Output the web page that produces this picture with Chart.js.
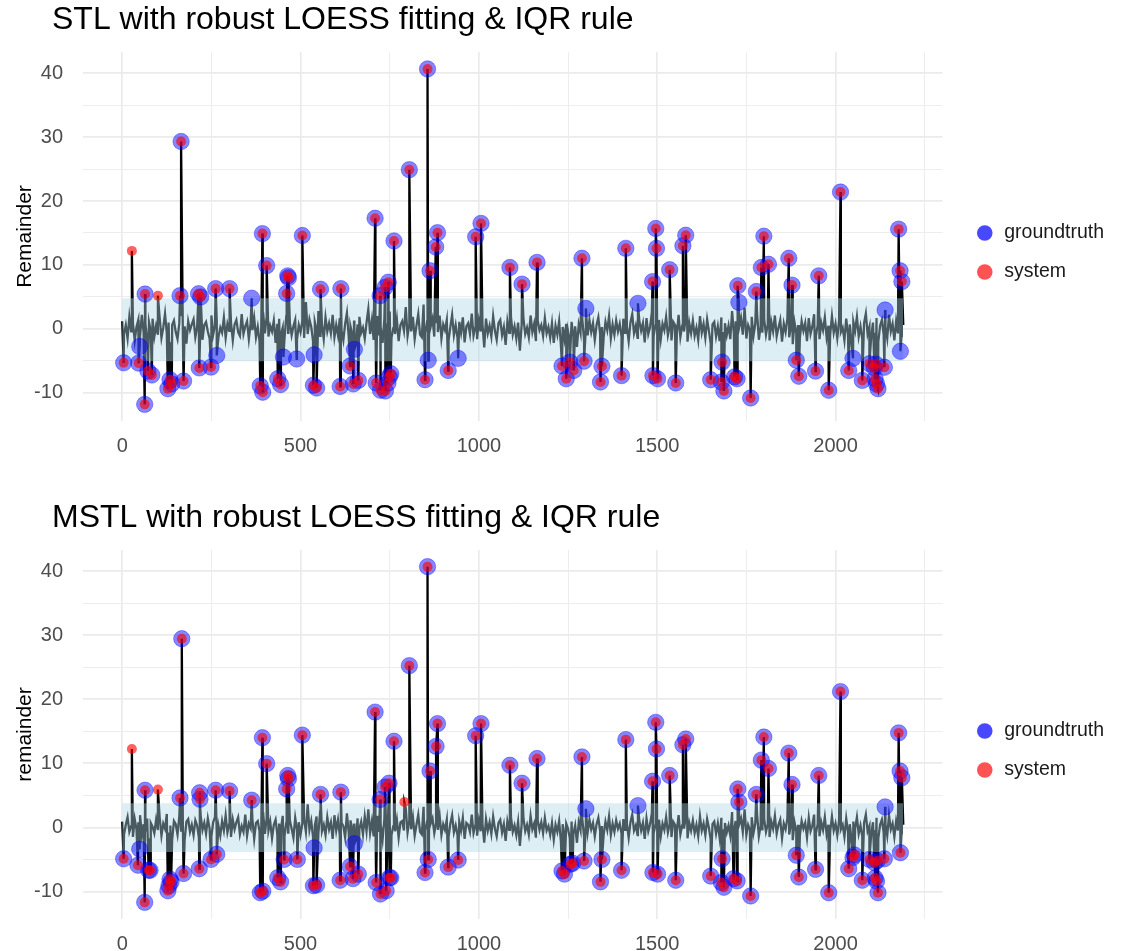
<!DOCTYPE html>
<html>
<head>
<meta charset="utf-8">
<script src="https://cdn.jsdelivr.net/npm/chart.js@4.4.1/dist/chart.umd.min.js"></script>
<style>
  body { margin: 0; background: #fff; overflow: hidden; }
  .panel { position: absolute; left: 0; width: 1139px; height: 453px; }
</style>
</head>
<body>
<div class="panel" style="top:0"><canvas id="stl"></canvas></div>
<div class="panel" style="top:498px"><canvas id="mstl"></canvas></div>
<script>
// titles
const stlTitle = 'STL with robust LOESS fitting & IQR rule';
const mstlTitle = 'MSTL with robust LOESS fitting & IQR rule';
const stlYTitle = 'Remainder';
const mstlYTitle = 'remainder';
const seriesNames = ['groundtruth', 'system'];

// axis ticks
const xMajor = [0, 500, 1000, 1500, 2000];
const xMinor = [250, 750, 1250, 1750, 2250];
const yMajor = [-10, 0, 10, 20, 30, 40];
const yMinor = [-5, 5, 15, 25, 35];
const xRange = [-110, 2300];
const stlYRange = [-14.4, 43.3];
const mstlYRange = [-14.3, 43.3];

// IQR band [lower, upper] and its x extent
const stlBand = [-5.05, 4.8];
const mstlBand = [-3.85, 3.75];
const bandX = [0, 2190];

// remainder samples, one every noiseStep time units (outliers are added on top)
const noiseStep = 5;
const stlNoise = [
  1.2,-0.8,0.6,-1.5,1.9,-0.4,0.9,-1.8,0.3,1.4,-1.1,2.2,-0.6,0.8,-1.9,1.1,-0.3,1.6,-1.2,0.5,
  -0.9,1.7,-1.4,0.2,2.4,-0.7,1.0,-2.1,0.6,1.3,-0.5,-1.6,0.9,2.0,-1.0,0.4,-2.3,1.2,-0.2,0.7,
  1.5,-1.3,0.3,-0.8,1.9,-1.7,0.6,1.1,-0.4,-1.5,2.1,-0.9,0.5,1.3,-1.2,0.2,-0.6,1.8,-1.4,0.8,
  -0.3,1.0,-1.8,0.7,1.4,-0.5,-1.1,2.3,-0.8,0.4,1.2,-1.6,0.9,-0.2,1.7,-1.3,0.3,-2.0,1.1,2.6,
  -0.7,1.9,-1.2,0.5,-0.4,1.3,-2.2,0.8,1.6,-0.9,0.2,-1.5,2.0,-0.6,1.0,-1.0,0.4,1.4,-1.7,0.6,
  -0.5,1.2,-1.4,4.2,-0.8,1.5,0.3,-1.9,1.1,-0.2,2.8,-1.1,0.7,-1.6,1.8,-0.4,0.9,-0.7,2.2,-1.3,
  0.6,-1.0,1.7,-0.3,-1.8,0.8,2.5,-1.2,0.4,-0.9,1.3,-2.4,0.7,1.9,-0.6,0.2,-1.5,1.0,3.1,-0.8,
  1.4,-1.7,0.5,2.0,-1.0,0.3,-2.2,1.6,-0.5,0.9,2.7,-1.4,0.1,-0.8,1.5,-1.9,0.6,1.2,-0.3,3.4,
  -1.1,0.8,-0.4,1.9,-1.6,0.5,2.3,-0.9,-1.3,3.8,-0.7,1.2,-2.0,0.4,1.6,-1.2,0.9,-0.5,2.1,-1.5,
  0.7,-0.2,1.4,-1.8,0.3,2.2,-1.0,0.6,-1.4,1.1,-0.6,1.8,-2.1,0.4,0.9,-0.8,2.4,-1.1,0.2,-1.6,
  1.3,-0.4,0.8,-2.9,1.6,-0.7,0.5,-1.2,2.0,-0.3,-1.7,0.9,1.4,-1.0,0.3,-2.5,1.2,-0.6,1.9,-0.9,
  0.4,-1.5,1.0,-3.4,0.7,1.6,-0.8,0.2,-1.3,2.1,-0.5,0.8,-1.9,1.3,-0.2,0.6,-1.1,1.7,-0.7,0.3,
  -1.4,0.9,-2.2,0.5,-0.9,1.2,-2.6,0.3,-1.6,0.8,-0.4,-2.0,1.1,-1.2,0.4,-2.8,0.7,-0.6,1.5,-1.8,
  0.2,-1.0,1.4,-0.5,0.9,-1.7,0.6,1.8,-0.8,0.3,-1.3,1.1,-0.2,2.0,-1.5,0.7,-0.9,1.3,-0.4,0.8,
  -1.2,1.6,-0.6,0.4,-1.9,1.0,2.3,-0.7,0.5,-1.4,1.2,-0.3,0.9,-2.1,1.7,-0.8,0.3,2.6,-1.1,0.6,
  -0.5,1.4,-1.6,0.8,-0.2,1.9,-1.0,0.4,-1.8,1.1,0.6,-0.9,2.2,-1.3,0.5,-0.4,1.6,-2.0,0.9,-0.7,
  1.3,-1.1,0.2,-1.7,2.0,-0.6,0.8,-1.4,1.5,-0.3,-2.3,0.7,1.1,-1.2,0.4,-1.9,1.8,-0.5,0.9,-1.0,
  0.5,-1.6,2.8,-0.8,1.2,-1.3,0.3,1.7,-0.9,3.3,-1.5,0.6,-0.2,1.9,-1.1,0.8,2.5,-1.7,0.4,-0.6,
  1.5,-0.9,0.7,-1.8,1.1,-0.4,2.1,-1.2,0.2,1.4,-2.0,0.8,-0.5,1.6,-1.3,0.3,-2.4,1.0,-0.7,0.6,
  -1.5,1.2,-0.3,0.9,-1.9,1.7,-0.8,0.4,2.3,-1.1,0.6,-1.6,1.0,-0.2,1.8,-1.3,0.5,-0.9,2.0,-0.6,
  0.8,-1.4,1.3,-0.5,0.2,-1.8,1.6,-0.9,0.7,-2.2,1.1,-0.3,1.9,-1.2,0.4,-1.6,0.9,2.4,-0.8,0.3,
  -1.3,1.0,-0.6,1.7,-2.0,0.5,1.4,-0.9,0.3,-1.5,2.2,-0.4,0.8,-1.8,1.2,-0.7,1.5,-1.1,0.6
];
const mstlNoise = [
  0.9,-1.1,0.4,1.6,-0.7,0.2,-1.5,1.3,-0.3,0.8,1.9,-1.2,0.5,-0.6,1.4,-1.7,0.7,0.1,-0.9,1.2,
  -0.4,1.5,-1.3,0.6,-0.2,2.1,-0.8,0.3,-1.9,1.0,0.5,-1.1,1.7,-0.5,0.2,-2.0,0.9,1.3,-0.7,0.4,
  -1.2,1.1,0.3,-1.6,1.8,-0.4,0.7,-1.0,1.4,-0.2,-1.4,0.8,1.6,-0.9,0.2,-1.3,1.0,-0.5,1.9,-0.8,
  0.5,-1.5,1.2,-0.3,0.8,1.6,-1.1,0.2,-0.7,2.0,-1.3,0.6,-0.1,1.3,-1.8,0.7,1.0,-0.6,0.3,2.4,
  -1.0,1.4,-0.5,0.9,-1.7,0.4,1.2,-1.2,0.6,-0.3,1.8,-1.4,0.7,-0.8,1.1,-0.2,-1.6,1.5,-0.4,0.8,
  -1.1,0.6,1.3,-0.7,3.6,-0.4,1.0,-1.5,0.3,1.7,-0.9,2.5,-0.6,0.4,-1.2,1.6,-0.3,0.8,-1.8,1.9,
  -0.5,1.2,-1.3,0.7,0.2,-1.6,2.2,-0.8,1.1,-0.4,0.6,-2.0,1.4,-0.2,0.9,-1.1,1.7,-0.6,2.8,-0.9,
  1.0,-1.4,0.4,1.8,-0.7,0.5,-1.9,1.3,-0.3,0.7,2.4,-1.2,0.2,-0.6,1.2,-1.6,0.8,1.0,-0.5,3.0,
  -0.8,1.1,-0.3,1.6,-1.3,0.4,2.0,-0.7,-1.1,3.2,-0.5,1.0,-1.7,0.6,1.4,-0.9,0.7,-0.4,1.8,-1.2,
  0.5,-0.4,1.2,-1.5,0.6,1.9,-0.8,0.3,-1.2,0.9,-0.5,1.5,-1.8,0.7,0.4,-0.7,2.0,-0.9,0.3,-1.3,
  1.1,-0.6,0.6,-2.4,1.3,-0.5,0.8,-1.0,1.7,-0.2,-1.4,0.7,1.2,-0.8,0.5,-2.1,1.0,-0.4,1.6,-0.7,
  0.3,-1.2,0.9,-2.9,0.5,1.4,-0.6,0.4,-1.1,1.8,-0.3,0.6,-1.6,1.1,-0.4,0.8,-0.9,1.5,-0.5,0.2,
  -1.2,0.7,-1.9,0.4,-0.7,1.0,-2.2,0.5,-1.3,0.6,-0.2,-1.7,0.9,-1.0,0.3,-2.4,0.8,-0.4,1.3,-1.5,
  0.4,-0.8,1.2,-0.3,0.7,-1.4,0.5,1.5,-0.6,0.2,-1.1,0.9,-0.4,1.7,-1.2,0.6,-0.7,1.1,-0.2,0.6,
  -1.0,1.3,-0.4,0.6,-1.6,0.8,2.0,-0.5,0.3,-1.2,1.0,-0.5,0.7,-1.8,1.4,-0.6,0.5,2.2,-0.9,0.4,
  -0.3,1.2,-1.4,0.6,-0.4,1.6,-0.8,0.5,-1.5,0.9,0.4,-0.7,1.9,-1.1,0.3,-0.2,1.4,-1.7,0.7,-0.5,
  1.1,-0.9,0.4,-1.4,1.7,-0.5,0.6,-1.2,1.3,-0.1,-1.9,0.5,0.9,-1.0,0.6,-1.6,1.5,-0.3,0.7,-0.8,
  0.3,-1.3,2.4,-0.6,1.0,-1.1,0.5,1.4,-0.7,2.8,-1.2,0.4,-0.4,1.6,-0.9,0.6,2.1,-1.4,0.2,-0.5,
  1.3,-0.7,0.5,-1.5,0.9,-0.2,1.8,-1.0,0.4,1.2,-1.7,0.6,-0.3,1.4,-1.1,0.5,-2.0,0.8,-0.6,0.4,
  -1.3,1.0,-0.2,0.7,-1.6,1.5,-0.6,0.3,2.0,-0.9,0.5,-1.4,0.8,-0.4,1.6,-1.1,0.4,-0.7,1.7,-0.5,
  0.6,-1.2,1.1,-0.3,0.4,-1.5,1.4,-0.7,0.5,-1.9,0.9,-0.2,1.6,-1.0,0.3,-1.4,0.7,2.0,-0.6,0.2,
  -1.1,0.8,-0.4,1.5,-1.7,0.4,1.2,-0.8,0.5,-1.3,1.9,-0.3,0.6,-1.5,1.0,-0.5,1.3,-0.9,0.4
];

// outliers [time, remainder, who]: 'b' = groundtruth and system, 'g' = groundtruth only, 's' = system only
const stlOutliers = [
  [4,-5.3,'b'],[27,12.2,'s'],[46,-5.35,'b'],[49,-2.75,'g'],[63,-11.8,'b'],[64,5.45,'b'],[72,-6.6,'b'],
  [83,-7.2,'b'],[100,5.2,'s'],[128,-9.35,'b'],[134,-7.95,'b'],[139,-8.6,'b'],[162,5.2,'b'],[165,29.3,'b'],
  [172,-8.15,'b'],[214,5.5,'b'],[216,-6.1,'b'],[220,5.0,'b'],[249,-5.97,'b'],[262,6.3,'b'],[265,-4.15,'g'],
  [301,6.3,'b'],[363,4.8,'g'],[387,-8.9,'b'],[393,14.9,'b'],[394,-9.9,'b'],[405,9.9,'b'],[436,-7.8,'b'],
  [444,-8.7,'b'],[452,-4.4,'g'],[461,5.55,'b'],[464,8.3,'b'],[466,8.0,'b'],[489,-4.7,'g'],[505,14.6,'b'],
  [536,-8.8,'b'],[538,-4.05,'g'],[545,-9.25,'b'],[556,6.2,'b'],[611,-9.0,'b'],[613,6.3,'b'],[639,-5.8,'b'],
  [648,-8.6,'b'],[651,-3.2,'g'],[662,-8.05,'b'],[709,17.3,'b'],[712,-8.45,'b'],[723,5.2,'b'],[724,-9.6,'b'],
  [737,6.5,'b'],[738,-9.7,'b'],[745,-8.5,'b'],[746,7.3,'b'],[749,-7.5,'b'],[753,-7.0,'b'],[762,13.75,'b'],
  [805,24.9,'b'],[849,-7.95,'b'],[856,40.65,'b'],[858,-4.9,'g'],[863,9.1,'b'],[879,12.8,'b'],[884,15.05,'b'],
  [914,-6.5,'b'],[942,-4.6,'g'],[991,14.4,'b'],[1006,16.5,'b'],[1087,9.6,'b'],[1121,7.0,'b'],[1163,10.4,'b'],
  [1233,-5.8,'b'],[1245,-7.8,'b'],[1255,-5.2,'b'],[1266,-6.5,'b'],[1289,11.05,'b'],[1295,-5.05,'b'],[1300,3.2,'g'],
  [1341,-8.3,'b'],[1345,-5.85,'b'],[1400,-7.3,'b'],[1412,12.6,'b'],[1446,4.0,'g'],[1487,7.4,'b'],[1488,-7.3,'b'],
  [1496,15.7,'b'],[1498,12.6,'b'],[1501,-7.8,'b'],[1535,9.25,'b'],[1552,-8.45,'b'],[1572,13.0,'b'],[1580,14.65,'b'],
  [1650,-7.95,'b'],[1680,-8.3,'b'],[1682,-5.2,'b'],[1687,-9.7,'b'],[1717,-7.5,'b'],[1724,-7.8,'b'],[1726,6.75,'b'],
  [1729,4.15,'g'],[1762,-10.8,'b'],[1778,5.85,'b'],[1792,9.6,'b'],[1799,14.5,'b'],[1812,10.1,'b'],[1869,11.05,'b'],
  [1878,6.85,'b'],[1890,-4.9,'b'],[1897,-7.4,'b'],[1944,-6.6,'b'],[1953,8.3,'b'],[1981,-9.6,'b'],[2014,21.4,'b'],
  [2037,-6.5,'b'],[2049,-4.6,'g'],[2075,-8.05,'b'],[2095,-5.45,'b'],[2109,-6.1,'b'],[2111,-7.8,'b'],[2113,-5.5,'b'],
  [2115,-8.6,'b'],[2119,-9.35,'b'],[2137,-6.0,'b'],[2139,2.95,'g'],[2177,15.6,'b'],[2181,9.1,'b'],[2182,-3.5,'g'],
  [2186,7.4,'b']
];
const mstlOutliers = [
  [4,-4.9,'b'],[27,12.25,'s'],[44,-5.9,'b'],[49,-3.4,'g'],[63,-11.7,'b'],[64,5.8,'b'],[74,-6.7,'b'],
  [78,-6.7,'b'],[100,5.9,'s'],[128,-9.9,'b'],[131,-9.1,'b'],[134,-8.1,'b'],[137,-8.5,'b'],[162,4.6,'b'],
  [167,29.45,'b'],[172,-7.2,'b'],[216,-6.45,'b'],[217,5.4,'b'],[218,4.4,'b'],[249,-5.0,'b'],[262,5.8,'b'],
  [265,-4.2,'b'],[301,5.7,'b'],[363,4.25,'b'],[387,-10.2,'b'],[393,14.0,'b'],[394,-9.95,'b'],[405,9.95,'b'],
  [436,-7.85,'b'],[444,-8.5,'b'],[454,-5.0,'b'],[461,6.0,'b'],[464,8.1,'b'],[466,7.6,'b'],[491,-5.0,'b'],
  [505,14.4,'b'],[536,-9.1,'b'],[538,-3.2,'g'],[545,-9.0,'b'],[556,5.15,'b'],[611,-8.25,'b'],[613,5.5,'b'],
  [639,-6.1,'b'],[647,-8.0,'b'],[651,-2.55,'g'],[662,-7.3,'b'],[709,18.0,'b'],[712,-8.6,'b'],[723,4.35,'b'],
  [724,-10.4,'b'],[737,6.3,'b'],[740,-9.9,'b'],[748,6.9,'b'],[749,-7.85,'b'],[753,-7.85,'b'],[762,13.45,'b'],
  [791,3.95,'s'],[805,25.25,'b'],[849,-7.05,'b'],[856,40.7,'b'],[858,-5.0,'b'],[863,8.8,'b'],[880,12.65,'b'],
  [884,16.2,'b'],[914,-6.2,'b'],[942,-5.1,'b'],[991,14.3,'b'],[1006,16.2,'b'],[1087,9.7,'b'],[1121,6.9,'b'],
  [1163,10.75,'b'],[1233,-6.8,'b'],[1240,-7.3,'b'],[1257,-5.75,'b'],[1263,-5.6,'b'],[1289,11.0,'b'],[1295,-5.25,'b'],
  [1300,2.9,'g'],[1341,-8.5,'b'],[1345,-5.0,'b'],[1400,-6.7,'b'],[1412,13.7,'b'],[1446,3.4,'g'],[1487,7.2,'b'],
  [1488,-7.05,'b'],[1496,16.4,'b'],[1498,12.25,'b'],[1501,-7.3,'b'],[1535,8.1,'b'],[1552,-8.25,'b'],[1572,12.9,'b'],
  [1580,13.8,'b'],[1650,-7.6,'b'],[1680,-8.6,'b'],[1682,-4.9,'b'],[1687,-9.35,'b'],[1714,-8.0,'b'],[1724,-8.35,'b'],
  [1726,6.0,'b'],[1729,3.95,'b'],[1762,-10.7,'b'],[1778,5.15,'b'],[1792,10.5,'b'],[1799,14.1,'b'],[1812,9.2,'b'],
  [1869,11.6,'b'],[1878,6.7,'b'],[1890,-4.35,'b'],[1897,-7.75,'b'],[1944,-6.55,'b'],[1953,8.1,'b'],[1981,-10.2,'b'],
  [2014,21.2,'b'],[2037,-6.45,'b'],[2049,-4.7,'b'],[2053,-4.3,'b'],[2075,-8.25,'b'],[2095,-5.0,'b'],[2109,-5.5,'b'],
  [2111,-7.9,'b'],[2115,-8.4,'b'],[2117,-5.2,'b'],[2119,-10.2,'b'],[2137,-4.9,'b'],[2139,3.2,'g'],[2177,14.75,'b'],
  [2181,8.8,'b'],[2182,-3.95,'b'],[2186,7.75,'b']
];

const FONT = '"Liberation Sans", Arial, Helvetica, sans-serif';

// draws the panel title left of the plot, like ggplot does
const panelTitle = {
  id: 'panelTitle',
  afterDraw(chart, args, opts) {
    const c = chart.ctx;
    c.save();
    c.font = '32px ' + FONT;
    c.fillStyle = '#000';
    c.textBaseline = 'middle';
    c.fillText(opts.text, opts.x, opts.y);
    c.restore();
  }
};

function buildSeries(noise, outliers) {
  const pts = noise.map((v, i) => ({x: i * noiseStep, y: v}));
  outliers.forEach(o => pts.push({x: o[0], y: o[1]}));
  return pts.sort((a, b) => a.x - b.x);
}

const toPts = list => list.map(o => ({x: o[0], y: o[1]}));

function makePanel(id, title, yTitle, noise, outliers, band, yRange) {
  const gt = toPts(outliers.filter(o => o[2] !== 's'));
  const sys = toPts(outliers.filter(o => o[2] !== 'g'));
  const isMajorX = v => xMajor.includes(v);
  const isMajorY = v => yMajor.includes(v);

  new Chart(document.getElementById(id), {
    type: 'scatter',
    data: {
      datasets: [
        {
          label: 'remainder',
          data: buildSeries(noise, outliers),
          showLine: true,
          borderColor: '#000',
          borderWidth: 2.3,
          pointRadius: 0,
          order: 4
        },
        {
          label: 'band',
          data: [{x: bandX[0], y: band[1]}, {x: bandX[1], y: band[1]}],
          showLine: true,
          borderWidth: 0,
          pointRadius: 0,
          backgroundColor: 'rgba(173,216,230,0.42)',
          fill: {value: band[0]},
          order: 3
        },
        {
          label: seriesNames[0],
          data: gt,
          pointRadius: 8.2,
          backgroundColor: 'rgba(0,0,255,0.48)',
          borderColor: 'rgba(0,0,255,0.35)',
          borderWidth: 1,
          order: 2
        },
        {
          label: seriesNames[1],
          data: sys,
          pointRadius: 5,
          backgroundColor: 'rgba(255,0,0,0.62)',
          borderWidth: 0,
          order: 1
        }
      ]
    },
    options: {
      responsive: true,
      maintainAspectRatio: false,
      animation: false,
      events: [],
      layout: { padding: { top: 52, left: 0, right: 25, bottom: 0 } },
      plugins: {
        tooltip: { enabled: false },
        panelTitle: { text: title, x: 52, y: 20 },
        legend: {
          position: 'right',
          align: 'center',
          labels: {
            usePointStyle: true,
            pointStyle: 'circle',
            boxHeight: 11,
            padding: 19.5,
            color: '#1a1a1a',
            font: { family: FONT, size: 19.5 },
            filter: item => seriesNames.includes(item.text),
            sort: (a, b) => a.datasetIndex - b.datasetIndex,
            generateLabels: chart => Chart.defaults.plugins.legend.labels.generateLabels(chart).map(l => {
              const c = l.text === seriesNames[0] ? 'rgba(40,40,255,0.85)' : 'rgba(255,40,40,0.8)';
              return Object.assign(l, { fillStyle: c, strokeStyle: c, lineWidth: 0 });
            })
          }
        }
      },
      scales: {
        x: {
          type: 'linear',
          min: xRange[0],
          max: xRange[1],
          border: { display: false },
          afterBuildTicks: s => { s.ticks = xMajor.concat(xMinor).sort((a, b) => a - b).map(v => ({value: v})); },
          afterFit: s => { s.height = 31; },
          grid: {
            drawTicks: false,
            color: '#ebebeb',
            lineWidth: c => (c.tick && isMajorX(c.tick.value) ? 1.7 : 0.9)
          },
          ticks: {
            autoSkip: false,
            maxRotation: 0,
            padding: 13,
            color: '#4d4d4d',
            font: { family: FONT, size: 20 },
            callback: v => (isMajorX(v) ? String(v) : '')
          }
        },
        y: {
          type: 'linear',
          min: yRange[0],
          max: yRange[1],
          border: { display: false },
          afterBuildTicks: s => { s.ticks = yMajor.concat(yMinor).sort((a, b) => a - b).map(v => ({value: v})); },
          afterFit: s => { s.width = 83; },
          title: {
            display: true,
            text: yTitle,
            color: '#000',
            font: { family: FONT, size: 21 },
            padding: { top: 13, bottom: 0 }
          },
          grid: {
            drawTicks: false,
            color: '#ebebeb',
            lineWidth: c => (c.tick && isMajorY(c.tick.value) ? 1.7 : 0.9)
          },
          ticks: {
            autoSkip: false,
            padding: 20,
            color: '#4d4d4d',
            font: { family: FONT, size: 20 },
            callback: v => (isMajorY(v) ? String(v) : '')
          }
        },
        // empty strip between the panel and the legend
        gap: {
          type: 'linear',
          position: 'right',
          display: true,
          border: { display: false },
          grid: { display: false },
          ticks: { display: false },
          afterFit: s => { s.width = 13; }
        }
      }
    },
    plugins: [panelTitle]
  });
}

makePanel('stl', stlTitle, stlYTitle, stlNoise, stlOutliers, stlBand, stlYRange);
makePanel('mstl', mstlTitle, mstlYTitle, mstlNoise, mstlOutliers, mstlBand, mstlYRange);
</script>
</body>
</html>
